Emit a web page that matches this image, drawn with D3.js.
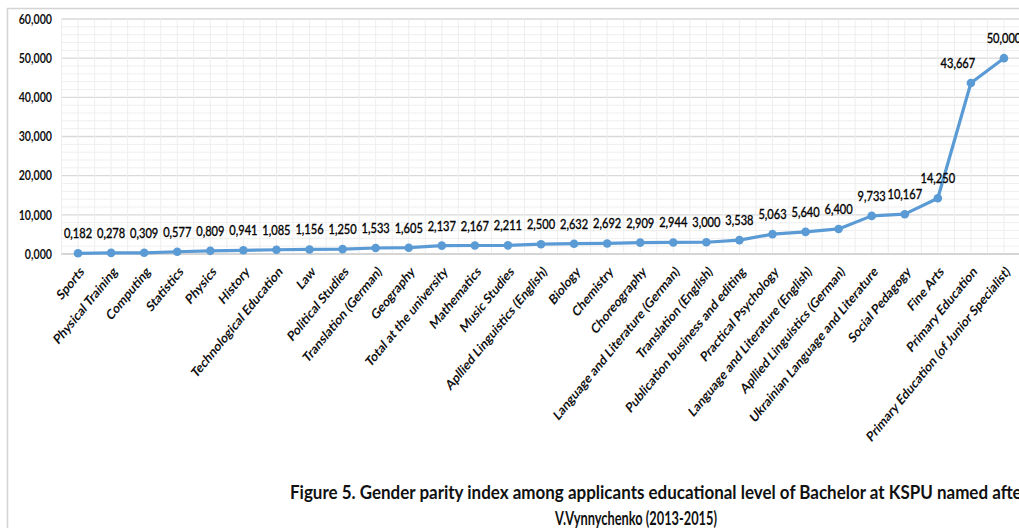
<!DOCTYPE html>
<html>
<head>
<meta charset="utf-8">
<script src="https://cdn.jsdelivr.net/npm/d3@7"></script>
<style>
  body { margin: 0; background: #fff; }
  svg { display: block; font-family: Lato, "Open Sans", sans-serif; }
</style>
</head>
<body>
<script>
var categories = ["Sports", "Physical Training", "Computing", "Statistics", "Physics", "History",
  "Technological Education", "Law", "Political Studies", "Translation (German)", "Geography",
  "Total at the university", "Mathematics", "Music Studies", "Apllied Linguistics (English)",
  "Biology", "Chemistry", "Choreography", "Language and Literature (German)", "Translation (English)",
  "Publication business and editing", "Practical Psychology", "Language and Literature (English)",
  "Apllied Linguistics (German)", "Ukrainian Language and Literature", "Social Pedagogy",
  "Fine Arts", "Primary Education", "Primary Education (of Junior Specialist)"];

var values = [0.182, 0.278, 0.309, 0.577, 0.809, 0.941, 1.085, 1.156, 1.250, 1.533, 1.605,
  2.137, 2.167, 2.211, 2.500, 2.632, 2.692, 2.909, 2.944, 3.000, 3.538, 5.063, 5.640, 6.400,
  9.733, 10.167, 14.250, 43.667, 50.000];

var yTicks = [0, 10, 20, 30, 40, 50, 60];

var titleLines = ["Figure 5. Gender parity index among applicants educational level of Bachelor at KSPU named after",
  "V.Vynnychenko (2013-2015)"];

var W = 1019, H = 528;
var sx = 0.82; // the source picture is squeezed sideways
var svg = d3.select("body").append("svg").attr("width", W).attr("height", H);

// outer chart frame
svg.append("path")
   .attr("d", "M7.5," + H + "V8.5H" + W)
   .attr("fill", "none")
   .attr("stroke", "#d4d4d4")
   .attr("stroke-width", 1.5);

var x = d3.scaleBand().domain(categories).range([61.5, 1020.5]).padding(0);
var y = d3.scaleLinear().domain([0, 60]).range([254, 19]);
var fmt = function(v) { return d3.format(",.3f")(v).replace(".", ","); };

// horizontal grid, minor every 2
var grid = svg.append("g");
d3.range(0, 61, 2).forEach(function(v) {
  grid.append("line")
      .attr("x1", 61.5).attr("x2", W)
      .attr("y1", y(v)).attr("y2", y(v))
      .attr("stroke", v % 10 === 0 ? "#d9d9d9" : "#efefef")
      .attr("stroke-width", v % 10 === 0 ? 1.3 : 1);
});
// vertical grid at band edges and centres
var half = x.bandwidth() / 2;
d3.range(0, categories.length * 2 + 1).forEach(function(i) {
  var gx = 61.5 + i * half;
  grid.append("line")
      .attr("x1", gx).attr("x2", gx)
      .attr("y1", y(60)).attr("y2", y(0))
      .attr("stroke", "#eeeeee");
});
grid.append("line").attr("x1", 61.5).attr("x2", W).attr("y1", y(0)).attr("y2", y(0))
    .attr("stroke", "#d0d0d0").attr("stroke-width", 1.5);

// y axis labels
var yAxis = d3.axisLeft(y).tickValues(yTicks).tickSize(0).tickPadding(0).tickFormat(fmt);
svg.append("g")
   .attr("transform", "translate(52,0)")
   .call(yAxis)
   .call(function(g) { g.select(".domain").remove(); })
   .selectAll("text")
   .attr("font-family", "Lato, sans-serif")
   .attr("font-size", 13)
   .attr("font-weight", "bold")
   .attr("fill", "#111")
   .attr("x", 0)
   .attr("transform", "scale(" + sx + ",1)");

// x axis labels, rotated
var xAxis = d3.axisBottom(x).tickSize(0).tickPadding(0);
svg.append("g")
   .attr("transform", "translate(0,254)")
   .call(xAxis)
   .call(function(g) { g.select(".domain").remove(); })
   .selectAll("text")
   .attr("font-family", "Lato, sans-serif")
   .attr("font-size", 14)
   .attr("font-weight", "bold")
   .attr("fill", "#111")
   .style("text-anchor", "end")
   .attr("y", 0)
   .attr("dy", "0.35em")
   .attr("transform", "translate(4,15) scale(" + sx + ",1) rotate(-45)");

// line + markers
var cx = function(d, i) { return x(categories[i]) + half; };
var line = d3.line().x(cx).y(function(d) { return y(d); });
svg.append("path")
   .datum(values)
   .attr("d", line)
   .attr("fill", "none")
   .attr("stroke", "#5b9bd5")
   .attr("stroke-width", 3.2)
   .attr("stroke-linejoin", "round");

svg.selectAll("circle.pt")
   .data(values)
   .enter().append("circle")
   .attr("class", "pt")
   .attr("cx", cx)
   .attr("cy", function(d) { return y(d); })
   .attr("r", 4.3)
   .attr("fill", "#5b9bd5");

// data labels
svg.selectAll("text.lbl")
   .data(values)
   .enter().append("text")
   .attr("class", "lbl")
   .attr("transform", function(d, i) {
     var lx = cx(d, i) + (i === categories.length - 2 ? -13 : 0);
     return "translate(" + lx + "," + (y(d) - 15) + ") scale(" + sx + ",1)";
   })
   .attr("text-anchor", "middle")
   .attr("font-size", 13.5)
   .attr("fill", "#000")
   .attr("stroke", "#000")
   .attr("stroke-width", 0.35)
   .text(fmt);

// title
svg.append("text")
   .attr("x", 290).attr("y", 499)
   .attr("font-size", 18)
   .attr("font-weight", "bold")
   .attr("fill", "#111")
   .attr("textLength", 738)
   .attr("lengthAdjust", "spacingAndGlyphs")
   .text(titleLines[0]);
svg.append("text")
   .attr("x", 555).attr("y", 525)
   .attr("font-size", 18)
   .attr("font-weight", "bold")
   .attr("fill", "#111")
   .attr("textLength", 162)
   .attr("lengthAdjust", "spacingAndGlyphs")
   .text(titleLines[1]);
</script>
</body>
</html>
